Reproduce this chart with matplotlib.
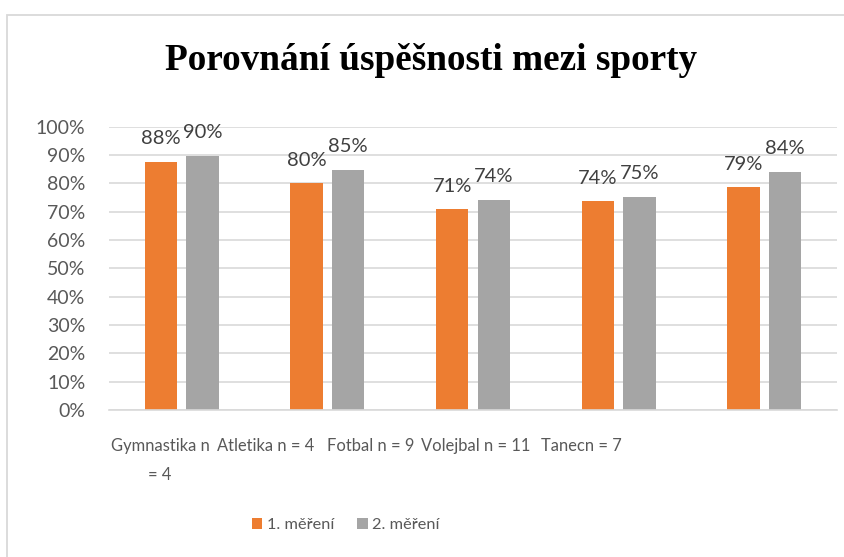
import numpy as np
import matplotlib.pyplot as plt
from matplotlib.patches import Rectangle

categories = ['Gymnastika n\n= 4', 'Atletika n = 4', 'Fotbal n = 9', 'Volejbal n = 11', 'Tanecn = 7']
mereni_1 = [0.876, 0.80, 0.709, 0.736, 0.786]
mereni_2 = [0.897, 0.848, 0.742, 0.752, 0.840]
labels_1 = ['88%', '80%', '71%', '74%', '79%']
labels_2 = ['90%', '85%', '74%', '75%', '84%']
series_names = ['1. měření', '2. měření']

c_orange = '#ED7D31'
c_gray = '#A5A5A5'
txt = '#595959'
grid_c = '#D9D9D9'
font = ['Lato', 'DejaVu Sans']

fig = plt.figure(figsize=(8.45, 5.57), dpi=100)
fig.patches.append(Rectangle((7.5 / 845, -0.1), 1.2, 1.1 - 15 / 557,
                             transform=fig.transFigure, fill=False,
                             edgecolor=grid_c, lw=1.3, zorder=0))

ax = fig.add_axes([109 / 845, 1 - 410 / 557, (837 - 109) / 845, (410 - 126.7) / 557])

x = np.arange(len(categories))
w = 0.223
off = (w + 0.062) / 2
b1 = ax.bar(x - off, mereni_1, w, color=c_orange, label=series_names[0], zorder=2)
b2 = ax.bar(x + off, mereni_2, w, color=c_gray, label=series_names[1], zorder=2)

for bars, labs in ((b1, labels_1), (b2, labels_2)):
    for r, lab in zip(bars, labs):
        ax.text(r.get_x() + r.get_width() / 2, r.get_height() + 0.062, lab,
                ha='center', va='baseline', fontsize=14.5, color='#404040', family=font)

ax.set_xlim(-0.5, len(categories) - 0.5)
ax.set_ylim(0, 1)
ax.set_yticks(np.arange(0, 1.01, 0.1))
ax.set_yticklabels([f'{int(round(v * 100))}%' for v in np.arange(0, 1.01, 0.1)])
# category labels in the source are squeezed to the left, not under the bars
ax.set_xticks(x * 0.723 - 0.15)
ax.set_xticklabels(categories, linespacing=2.05)
for t in ax.get_yticklabels():
    t.set_family(font)
    t.set_fontsize(14)
    t.set_color(txt)
for t in ax.get_xticklabels():
    t.set_family(font)
    t.set_fontsize(11.9)
    t.set_color(txt)
ax.tick_params(axis='both', length=0)
ax.tick_params(axis='y', pad=17)
ax.tick_params(axis='x', pad=20)

ax.yaxis.grid(True, color=grid_c, lw=1.2, zorder=0)
for s in ['top', 'right', 'left']:
    ax.spines[s].set_visible(False)
ax.spines['bottom'].set_color(grid_c)
ax.spines['bottom'].set_linewidth(1.2)

fig.text(431 / 845, 1 - 60 / 557, 'Porovnání úspěšnosti mezi sporty',
         ha='center', va='center', fontsize=26.8, fontweight='bold',
         family=['Liberation Serif', 'DejaVu Serif'], color='black')

leg = fig.legend(handles=[b1, b2], labels=series_names, loc='center',
                 bbox_to_anchor=(346 / 845, 1 - 525 / 557), ncol=2, frameon=False,
                 prop={'family': font, 'size': 11.8}, handlelength=0.62, handleheight=0.62,
                 handletextpad=0.3, columnspacing=1.4)
for t in leg.get_texts():
    t.set_color(txt)

fig.savefig('out.png', dpi=100)
